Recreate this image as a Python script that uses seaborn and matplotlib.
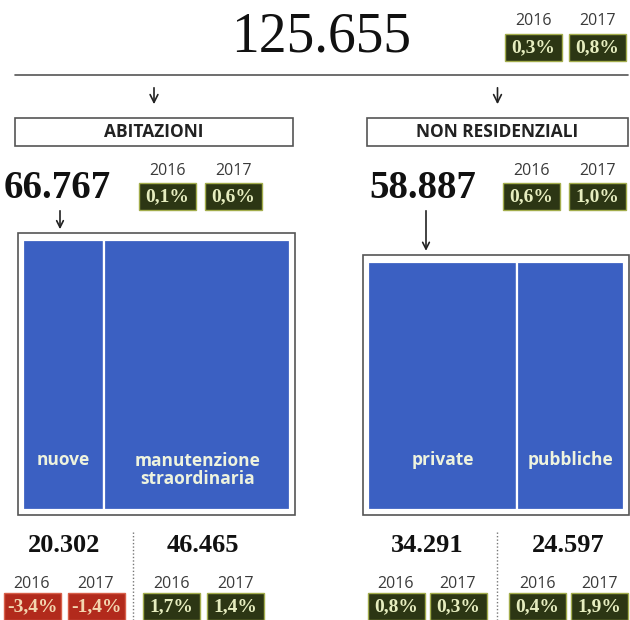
import matplotlib.pyplot as plt
import seaborn as sns
from matplotlib.patches import Rectangle

# --- data -------------------------------------------------------------
years = ["2016", "2017"]

total_value = 125655
total_var = [0.3, 0.8]

sectors = ["ABITAZIONI", "NON RESIDENZIALI"]
sector_values = [66767, 58887]
sector_var = [[0.1, 0.6], [0.6, 1.0]]

sub_labels = [["nuove", "manutenzione\nstraordinaria"], ["private", "pubbliche"]]
sub_values = [[20302, 46465], [34291, 24597]]
sub_var = [[[-3.4, -1.4], [1.7, 1.4]], [[0.8, 0.3], [0.4, 1.9]]]

# --- style ------------------------------------------------------------
sns.set_theme(style="white")
plt.rcParams["font.family"] = ["Liberation Serif", "DejaVu Sans"]

BLUE = "#3b60c2"
GREEN = "#2c3614"
GREEN_EDGE = "#a3ad4c"
RED = "#b22a1c"
SANS = ["Open Sans", "DejaVu Sans"]


def it_num(v):
    return f"{v:,}".replace(",", ".")


def it_pct(v):
    return f"{v:.1f}%".replace(".", ",")


def pct_pair(ax, xc, y_year, y_box, values, gap, w=57, h=27):
    for dx, yr, v in zip((-gap, gap), years, values):
        x = xc + dx
        ax.text(x, y_year, yr, ha="center", va="center", fontsize=11.5,
                family=SANS, color="#3a3a3a")
        fc = RED if v < 0 else GREEN
        ec = "#d8604a" if v < 0 else GREEN_EDGE
        tc = "#f3d6b0" if v < 0 else "#e6edbf"
        ax.add_patch(Rectangle((x - w / 2, y_box - h / 2), w, h, fc=fc,
                               ec=ec, lw=1.0))
        ax.text(x, y_box + 1, it_pct(v), ha="center", va="center",
                fontsize=14, weight="bold", color=tc)


fig = plt.figure(figsize=(6.3, 6.2), dpi=100)
ax = fig.add_axes([0, 0, 1, 1])
ax.set_xlim(0, 630)
ax.set_ylim(620, 0)
ax.axis("off")

# total
ax.text(321, 38, it_num(total_value), ha="center", va="center",
        fontsize=40, color="#111")
pct_pair(ax, 565, 21, 47, total_var, 32)
ax.plot([15, 628], [75, 75], color="#555", lw=1.2)

# sector headers
head_x = [(15, 293), (367, 628)]
num_x = [57, 423]
pair_x = [200, 564]
for i, name in enumerate(sectors):
    x0, x1 = head_x[i]
    xm = (x0 + x1) / 2
    ax.annotate("", xy=(xm, 107), xytext=(xm, 85),
                arrowprops=dict(arrowstyle="->", lw=1.2, color="#222",
                                mutation_scale=14))
    ax.add_patch(Rectangle((x0, 118), x1 - x0, 28, fc="white", ec="#555",
                           lw=1.2))
    ax.text(xm, 132, name, ha="center", va="center", fontsize=12.5,
            family=SANS, weight="bold", color="#222")
    ax.text(num_x[i], 189, it_num(sector_values[i]), ha="center",
            va="center", fontsize=28, weight="bold", color="#111")
    pct_pair(ax, pair_x[i], 171, 196, sector_var[i], 33)

# treemap blocks: width fixed per sector, height ~ value (same area scale)
block_x = [(23, 290), (368, 624)]
block_bottom = 510
area_scale = (block_x[0][1] - block_x[0][0]) * 270 / sector_values[0]
for i in range(2):
    x0, x1 = block_x[i]
    bw = x1 - x0
    bh = sector_values[i] * area_scale / bw
    top = block_bottom - bh
    ax.add_patch(Rectangle((x0 - 5, top - 7), bw + 10, bh + 12, fc="none",
                           ec="#555", lw=1.2))
    left = x0
    for lab, v in zip(sub_labels[i], sub_values[i]):
        w = bw * v / sector_values[i]
        ax.bar(left, bh, width=w, bottom=top, align="edge", color=BLUE,
               edgecolor="white", linewidth=1.6)
        ly = block_bottom - 40 if "\n" in lab else block_bottom - 50
        ax.text(left + w / 2, ly, lab, ha="center", va="center",
                fontsize=12.5, family=SANS, weight="bold", color="#eef3de",
                linespacing=1.0)
        left += w
    arrow_x = num_x[i] + 3
    ax.annotate("", xy=(arrow_x, top - 8), xytext=(arrow_x, 208),
                arrowprops=dict(arrowstyle="->", lw=1.2, color="#222",
                                mutation_scale=12))

# bottom stats
col_x = [[64, 203], [427, 568]]
col_gap = [32, 31]
divider_x = [133, 497]
for i in range(2):
    ax.plot([divider_x[i], divider_x[i]], [532, 620], color="#777", lw=1.0,
            ls=(0, (1, 1.5)))
    for j in range(2):
        xc = col_x[i][j]
        ax.text(xc, 545, it_num(sub_values[i][j]), ha="center", va="center",
                fontsize=19, weight="bold", color="#111")
        pct_pair(ax, xc, 584, 606, sub_var[i][j], col_gap[i])

fig.savefig("out.png", dpi=100)
